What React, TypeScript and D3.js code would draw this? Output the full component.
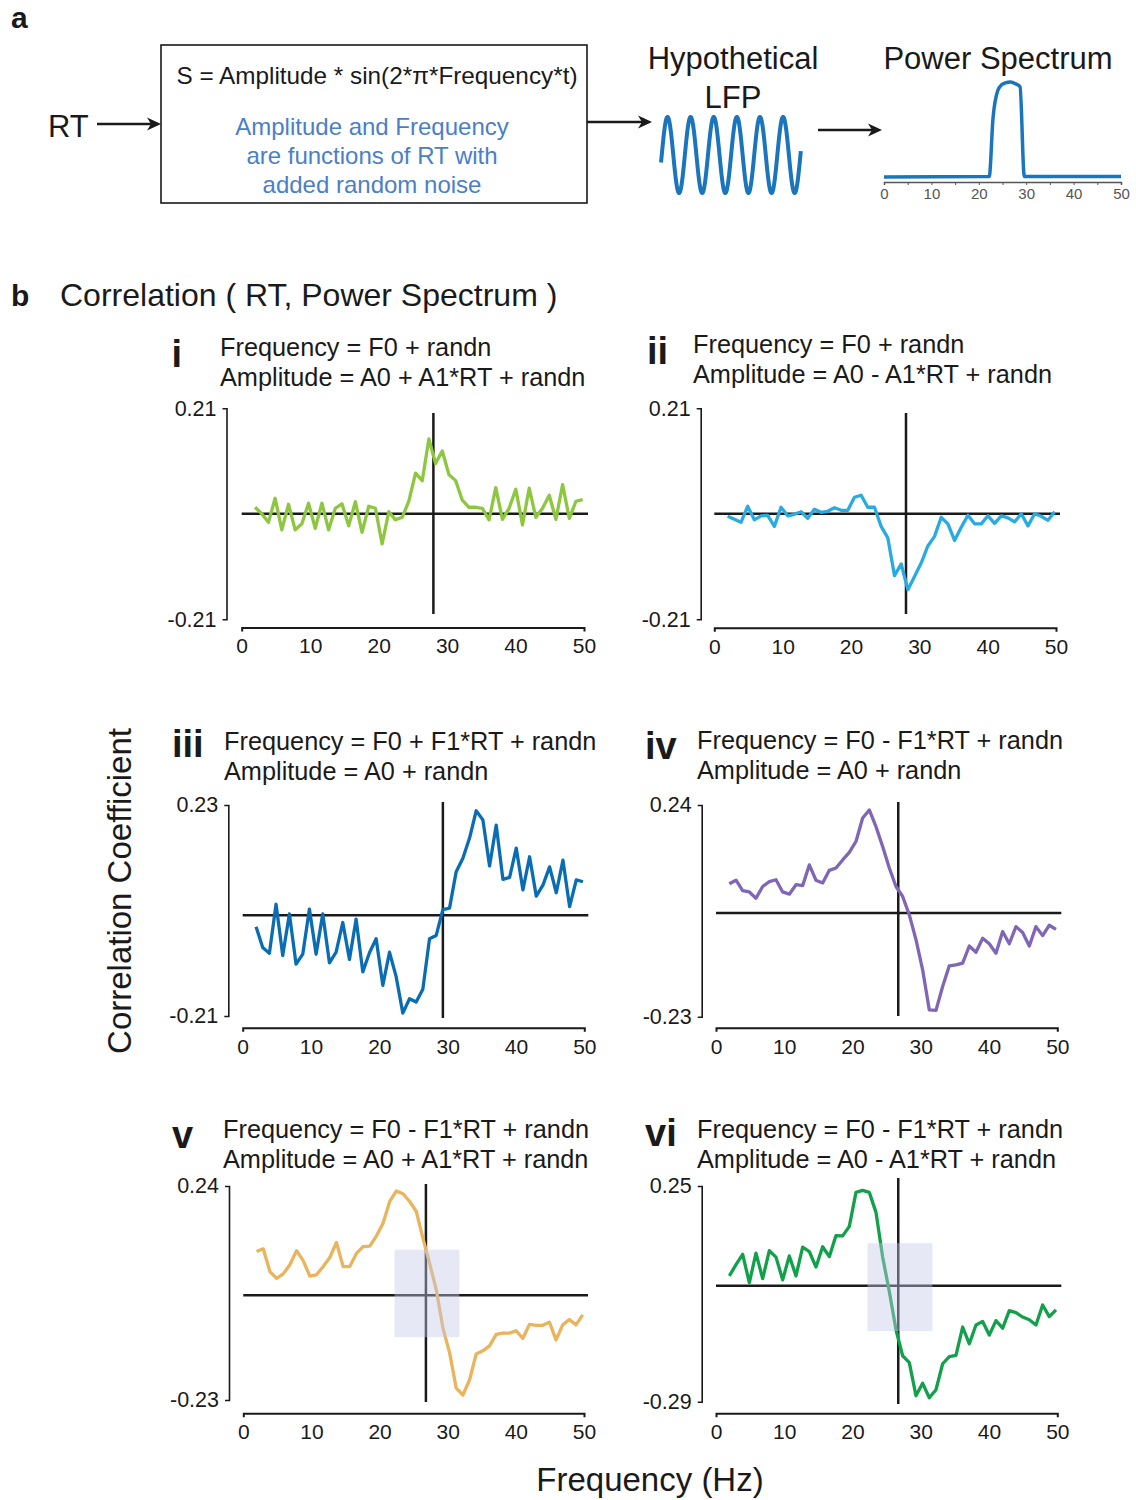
import React, { useEffect, useRef } from 'react';
import * as d3 from 'd3';

const FONT = '"Liberation Sans", Arial, Helvetica, sans-serif';

// FFT bins 2..51 (1000 Hz / 1024 points)
const FREQS = d3.range(2, 52).map(k => (k * 1000) / 1024);
const X_TICKS = [0, 10, 20, 30, 40, 50];

const CORR_I = [0.013, 0.0, -0.017, 0.031, -0.032, 0.019, -0.032, -0.02, 0.021, -0.029,
  0.021, -0.032, 0.011, 0.02, -0.024, 0.024, -0.037, 0.015, 0.011, -0.06,
  0.004, -0.012, -0.007, 0.025, 0.081, 0.066, 0.149, 0.1, 0.125, 0.078,
  0.066, 0.027, 0.013, 0.013, 0.011, -0.012, 0.052, -0.011, 0.011, 0.049,
  -0.022, 0.051, -0.007, 0.011, 0.037, -0.011, 0.058, -0.009, 0.025, 0.028];

const CORR_II = [-0.005, -0.011, -0.017, 0.015, -0.012, -0.004, -0.003, -0.025, 0.013, -0.004,
  -0.001, 0.004, -0.009, 0.009, 0.003, 0.005, 0.012, 0.007, 0.007, 0.033,
  0.037, 0.013, 0.013, -0.025, -0.048, -0.123, -0.1, -0.151, -0.125, -0.098,
  -0.064, -0.045, -0.007, -0.02, -0.053, -0.027, -0.003, -0.02, -0.02, -0.004,
  -0.019, -0.004, -0.008, -0.016, 0.0, -0.024, 0.0, -0.005, -0.013, 0.004];

const CORR_III = [-0.024, -0.067, -0.079, 0.023, -0.084, 0.003, -0.102, -0.081, 0.013, -0.081,
  0.003, -0.099, -0.077, -0.015, -0.092, -0.008, -0.118, -0.078, -0.049, -0.146,
  -0.077, -0.128, -0.204, -0.174, -0.181, -0.154, -0.049, -0.042, 0.012, 0.015,
  0.091, 0.119, 0.161, 0.218, 0.199, 0.103, 0.188, 0.075, 0.079, 0.14,
  0.053, 0.122, 0.04, 0.063, 0.101, 0.047, 0.115, 0.018, 0.074, 0.07];

const CORR_IV = [0.065, 0.073, 0.05, 0.047, 0.033, 0.059, 0.07, 0.074, 0.047, 0.042,
  0.063, 0.061, 0.107, 0.073, 0.067, 0.095, 0.1, 0.118, 0.135, 0.159,
  0.211, 0.229, 0.192, 0.148, 0.1, 0.059, 0.037, -0.004, -0.059, -0.126,
  -0.215, -0.216, -0.163, -0.117, -0.115, -0.111, -0.073, -0.087, -0.056, -0.068,
  -0.089, -0.041, -0.068, -0.03, -0.043, -0.073, -0.03, -0.05, -0.027, -0.036];

const CORR_V = [0.096, 0.102, 0.052, 0.037, 0.047, 0.067, 0.098, 0.076, 0.042, 0.045,
  0.063, 0.083, 0.116, 0.063, 0.063, 0.092, 0.107, 0.108, 0.13, 0.158,
  0.206, 0.229, 0.223, 0.206, 0.184, 0.125, 0.07, 0.012, -0.072, -0.126,
  -0.204, -0.219, -0.186, -0.129, -0.122, -0.111, -0.086, -0.083, -0.083, -0.078,
  -0.095, -0.064, -0.066, -0.066, -0.059, -0.098, -0.065, -0.053, -0.065, -0.043];

const CORR_VI = [0.025, 0.053, 0.079, 0.008, 0.082, 0.018, 0.088, 0.072, 0.015, 0.075,
  0.025, 0.097, 0.086, 0.047, 0.098, 0.073, 0.126, 0.125, 0.149, 0.234,
  0.239, 0.234, 0.184, 0.072, -0.014, -0.11, -0.175, -0.192, -0.275, -0.244,
  -0.28, -0.26, -0.195, -0.177, -0.174, -0.103, -0.145, -0.098, -0.089, -0.123,
  -0.087, -0.106, -0.062, -0.067, -0.078, -0.085, -0.098, -0.048, -0.077, -0.06];

// schematic power spectrum in panel a
const SPEC_FREQ = [0, 22.2, 23.0, 24.0, 24.8, 25.6, 26.7, 27.8, 28.7, 29.6, 50];
const SPEC_POWER = [0, 0.005, 0.62, 0.91, 0.97, 0.99, 1.0, 0.98, 0.95, 0.005, 0.005];

const PANELS = [
  { num: 'i', t1: 'Frequency = F0 + randn', t2: 'Amplitude = A0 + A1*RT + randn', values: CORR_I,
    color: '#8dc63f', yMin: -0.21, yMax: 0.21, rt: 28.0, box: null,
    left: 241.7, right: 584, top: 408.3, bottom: 619.3, axisX: 226.5, axisY: 627.5, vTop: 413, vBot: 614,
    nx: 171.5, nb: 367, tx: 220, tb: 356 },
  { num: 'ii', t1: 'Frequency = F0 + randn', t2: 'Amplitude = A0 - A1*RT + randn', values: CORR_II,
    color: '#29abe2', yMin: -0.21, yMax: 0.21, rt: 28.05, box: null,
    left: 714.3, right: 1056, top: 408.3, bottom: 619.3, axisX: 700.7, axisY: 627.7, vTop: 413, vBot: 614,
    nx: 647, nb: 364, tx: 693, tb: 353 },
  { num: 'iii', t1: 'Frequency = F0 + F1*RT + randn', t2: 'Amplitude = A0 + randn', values: CORR_III,
    color: '#0a6db3', yMin: -0.21, yMax: 0.23, rt: 29.3, box: null,
    left: 242.7, right: 584.3, top: 805, bottom: 1016, axisX: 228.3, axisY: 1027.7, vTop: 802, vBot: 1018,
    nx: 172, nb: 757, tx: 224, tb: 750 },
  { num: 'iv', t1: 'Frequency = F0 - F1*RT + randn', t2: 'Amplitude = A0 + randn', values: CORR_IV,
    color: '#7f66b6', yMin: -0.23, yMax: 0.24, rt: 26.7, box: null,
    left: 716, right: 1057.3, top: 805, bottom: 1016.7, axisX: 701.7, axisY: 1027.7, vTop: 802, vBot: 1016,
    nx: 645, nb: 759, tx: 697, tb: 749 },
  { num: 'v', t1: 'Frequency = F0 - F1*RT + randn', t2: 'Amplitude = A0 + A1*RT + randn', values: CORR_V,
    color: '#e9b45b', yMin: -0.23, yMax: 0.24, rt: 26.8, box: [22.2, 31.7, -0.092, 0.1],
    left: 243.3, right: 584, top: 1186, bottom: 1400, axisX: 229, axisY: 1413.3, vTop: 1184, vBot: 1402,
    nx: 172, nb: 1148, tx: 223, tb: 1138 },
  { num: 'vi', t1: 'Frequency = F0 - F1*RT + randn', t2: 'Amplitude = A0 - A1*RT + randn', values: CORR_VI,
    color: '#12a14a', yMin: -0.29, yMax: 0.25, rt: 26.7, box: [22.2, 31.7, -0.113, 0.107],
    left: 716, right: 1057.3, top: 1186, bottom: 1401.7, axisX: 701.7, axisY: 1413.3, vTop: 1178, vBot: 1404,
    nx: 645, nb: 1146, tx: 697, tb: 1138 },
];

const INK = '#1a1a1a';

function arrow(svg, x1, x2, y) {
  svg.append('line').attr('x1', x1).attr('x2', x2 - 8).attr('y1', y).attr('y2', y)
    .attr('stroke', INK).attr('stroke-width', 2.5);
  svg.append('path')
    .attr('d', `M${x2},${y} L${x2 - 14},${y - 6.5} L${x2 - 10},${y} L${x2 - 14},${y + 6.5} Z`)
    .attr('fill', INK);
}

export default function App() {
  const ref = useRef<SVGSVGElement>(null);

  useEffect(() => {
    const svg = d3.select(ref.current);
    svg.selectAll('*').remove();
    svg.append('rect').attr('width', 1136).attr('height', 1500).attr('fill', '#fff');

    // ---------- panel a ----------
    svg.append('text').attr('x', 11).attr('y', 28).attr('font-size', 30).attr('font-weight', 'bold')
      .attr('font-family', FONT).attr('fill', INK).text('a');
    svg.append('text').attr('x', 48).attr('y', 137).attr('font-size', 31)
      .attr('font-family', FONT).attr('fill', INK).text('RT');
    arrow(svg, 97, 161, 124);

    svg.append('rect').attr('x', 161).attr('y', 45).attr('width', 426).attr('height', 158)
      .attr('fill', 'none').attr('stroke', INK).attr('stroke-width', 1.6);
    svg.append('text').attr('x', 377).attr('y', 84).attr('text-anchor', 'middle').attr('font-size', 24.3)
      .attr('font-family', FONT).attr('fill', INK).text('S = Amplitude * sin(2*\u03c0*Frequency*t)');
    ['Amplitude and Frequency', 'are functions of RT with', 'added random noise'].forEach((s, i) => {
      svg.append('text').attr('x', 372).attr('y', 135 + i * 29).attr('text-anchor', 'middle')
        .attr('font-size', 24).attr('font-family', FONT).attr('fill', '#4a7fc6').text(s);
    });
    arrow(svg, 587, 652, 122);

    svg.append('text').attr('x', 733).attr('y', 69).attr('text-anchor', 'middle').attr('font-size', 31)
      .attr('font-family', FONT).attr('fill', INK).text('Hypothetical');
    svg.append('text').attr('x', 733).attr('y', 108).attr('text-anchor', 'middle').attr('font-size', 31)
      .attr('font-family', FONT).attr('fill', INK).text('LFP');

    // illustrative wave S = A*sin(2*pi*f*t)
    const tWave = d3.scaleLinear().domain([-0.2, 12 * Math.PI + 0.15]).range([661, 801]);
    const wave = d3.line<number>().x(ph => tWave(ph)).y(ph => 155 - 38 * Math.sin(ph));
    svg.append('path').datum(d3.range(-0.2, 12 * Math.PI + 0.15, 0.05))
      .attr('d', wave).attr('fill', 'none').attr('stroke', '#1b75bc').attr('stroke-width', 4);

    arrow(svg, 818, 882, 130);

    svg.append('text').attr('x', 998).attr('y', 69).attr('text-anchor', 'middle').attr('font-size', 31)
      .attr('font-family', FONT).attr('fill', INK).text('Power Spectrum');

    const sx = d3.scaleLinear().domain([0, 50]).range([884, 1121]);
    const sy = d3.scaleLinear().domain([0, 1]).range([177, 82]);
    const specAxis = d3.axisBottom(sx).tickValues(X_TICKS).tickSizeInner(3).tickSizeOuter(3).tickPadding(3)
      .tickFormat(d => String(d));
    const sa = svg.append('g').attr('transform', 'translate(0,182)').call(specAxis);
    sa.attr('font-family', FONT).attr('font-size', 15).attr('color', '#555');
    sa.select('.domain').attr('stroke-width', 1.5);
    svg.append('g').attr('transform', 'translate(0,182)')
      .call(d3.axisBottom(sx).tickValues(d3.range(5, 50, 10)).tickSizeInner(3).tickSizeOuter(0).tickFormat(() => ''))
      .call(g => g.select('.domain').remove())
      .attr('color', '#555');
    const spec = d3.line<number>().x((d, i) => sx(SPEC_FREQ[i])).y(d => sy(d)).curve(d3.curveMonotoneX);
    svg.append('path').datum(SPEC_POWER).attr('d', spec).attr('fill', 'none')
      .attr('stroke', '#1b75bc').attr('stroke-width', 3.5);

    // ---------- panel b ----------
    svg.append('text').attr('x', 11).attr('y', 306).attr('font-size', 30).attr('font-weight', 'bold')
      .attr('font-family', FONT).attr('fill', INK).text('b');
    svg.append('text').attr('x', 60).attr('y', 306).attr('font-size', 32)
      .attr('font-family', FONT).attr('fill', INK).text('Correlation ( RT, Power Spectrum )');

    svg.append('text').attr('transform', 'translate(131,891) rotate(-90)').attr('text-anchor', 'middle')
      .attr('font-size', 33).attr('font-family', FONT).attr('fill', INK).text('Correlation Coefficient');
    svg.append('text').attr('x', 650).attr('y', 1491).attr('text-anchor', 'middle')
      .attr('font-size', 33).attr('font-family', FONT).attr('fill', INK).text('Frequency (Hz)');

    PANELS.forEach(p => {
      const x = d3.scaleLinear().domain([0, 50]).range([p.left, p.right]);
      const y = d3.scaleLinear().domain([p.yMin, p.yMax]).range([p.bottom, p.top]);
      const g = svg.append('g');

      g.append('text').attr('x', p.nx).attr('y', p.nb).attr('font-size', 38).attr('font-weight', 'bold')
        .attr('font-family', FONT).attr('fill', INK).text(p.num);
      g.append('text').attr('x', p.tx).attr('y', p.tb).attr('font-size', 25.3)
        .attr('font-family', FONT).attr('fill', INK).text(p.t1);
      g.append('text').attr('x', p.tx).attr('y', p.tb + 30).attr('font-size', 25.3)
        .attr('font-family', FONT).attr('fill', INK).text(p.t2);

      g.append('line').attr('x1', x(0)).attr('x2', x(50) + 4).attr('y1', y(0)).attr('y2', y(0))
        .attr('stroke', INK).attr('stroke-width', 2.5);
      g.append('line').attr('x1', x(p.rt)).attr('x2', x(p.rt)).attr('y1', p.vTop).attr('y2', p.vBot)
        .attr('stroke', INK).attr('stroke-width', 2.5);

      const line = d3.line<number>().x((d, i) => x(FREQS[i])).y(d => y(d));
      g.append('path').datum(p.values).attr('d', line).attr('fill', 'none')
        .attr('stroke', p.color).attr('stroke-width', 3.3).attr('stroke-linejoin', 'round');

      if (p.box) {
        const [f0, f1, v0, v1] = p.box;
        g.append('rect').attr('x', x(f0)).attr('y', y(v1)).attr('width', x(f1) - x(f0))
          .attr('height', y(v0) - y(v1)).attr('fill', 'rgb(195,201,230)').attr('opacity', 0.42);
      }

      const xAxis = d3.axisBottom(x).tickValues(X_TICKS).tickSizeInner(0).tickSizeOuter(4)
        .tickPadding(11).tickFormat(d => String(d));
      const xa = g.append('g').attr('transform', `translate(0,${p.axisY})`).call(xAxis);
      xa.attr('font-family', FONT).attr('font-size', 21).attr('color', INK);
      xa.select('.domain').attr('stroke-width', 2);

      const yAxis = d3.axisLeft(y).tickValues([p.yMin, p.yMax]).tickSizeInner(0).tickSizeOuter(4)
        .tickPadding(10).tickFormat(d => (+d).toFixed(2));
      const ya = g.append('g').attr('transform', `translate(${p.axisX},0)`).call(yAxis);
      ya.attr('font-family', FONT).attr('font-size', 21.5).attr('color', INK);
      ya.select('.domain').attr('stroke-width', 1.6);
    });
  }, []);

  return (
    <svg ref={ref} width={1136} height={1500}
      style={{ position: 'absolute', left: 0, top: 0, display: 'block' }} />
  );
}
